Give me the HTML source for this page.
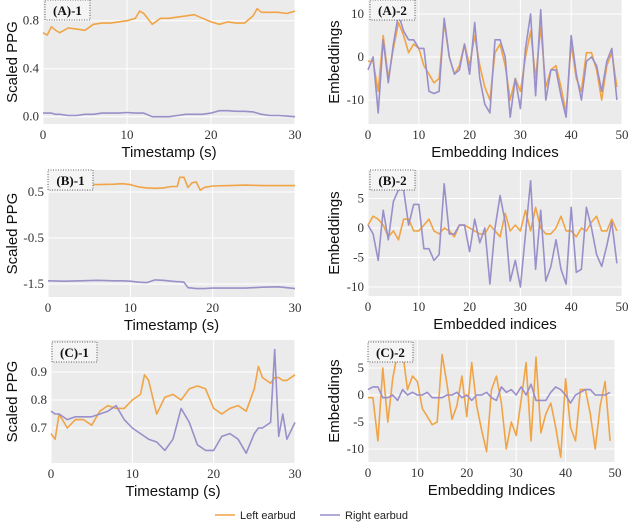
<!DOCTYPE html>
<html><head><meta charset="utf-8"><style>
body{margin:0;background:#fff}
svg{display:block}
text{font-family:"Liberation Serif",serif;fill:#222}
.t{font-family:"Liberation Sans",sans-serif;font-size:15px;fill:#111}
.tk{font-size:13px;fill:#333}
.lab{font-weight:bold;font-size:13px;fill:#111}
</style></head><body>
<svg id="c" width="630" height="524"></svg>
<script>
// ---- data ----
const tA1 = [0,0.5,1,1.5,2,3,4,5,6,7,8,9,10,11,11.5,12,13,14,15,16,17,18,19,20,21,22,23,24,25,25.5,26,27,28,29,30];
const a1Left = [0.70,0.68,0.75,0.72,0.70,0.74,0.73,0.72,0.77,0.78,0.78,0.79,0.80,0.82,0.88,0.86,0.77,0.82,0.82,0.83,0.84,0.85,0.82,0.79,0.77,0.79,0.78,0.78,0.84,0.90,0.87,0.87,0.87,0.86,0.88];
const a1Right = [0.03,0.03,0.03,0.02,0.02,0.01,0.01,0.02,0.02,0.03,0.03,0.03,0.035,0.03,0.03,0.03,0.0,0.0,0.0,0.01,0.02,0.02,0.02,0.03,0.05,0.05,0.045,0.045,0.04,0.03,0.02,0.01,0.01,0.005,0.0];
const tB1 = [0,2,4,6,8,9,10,11,12,13,14,15,15.7,16,16.5,17,17.5,18,18.5,19,20,22,24,26,28,30];
const b1Left = [0.67,0.66,0.67,0.66,0.67,0.68,0.66,0.61,0.59,0.58,0.59,0.62,0.62,0.82,0.82,0.60,0.70,0.72,0.54,0.60,0.63,0.64,0.65,0.64,0.64,0.64];
const b1Right = [-1.43,-1.44,-1.43,-1.42,-1.43,-1.43,-1.44,-1.46,-1.47,-1.41,-1.42,-1.44,-1.45,-1.45,-1.46,-1.58,-1.59,-1.60,-1.60,-1.60,-1.59,-1.59,-1.59,-1.57,-1.56,-1.60];
const tC1 = [0,0.5,1,2,3,4,5,6,7,8,9,10,11,11.5,12,13,14,15,16,17,18,19,20,21,22,23,24,25,25.5,26,27,27.5,28,28.5,29,30];
const c1Left = [0.68,0.66,0.75,0.70,0.73,0.73,0.71,0.76,0.78,0.77,0.77,0.80,0.82,0.89,0.87,0.75,0.81,0.82,0.80,0.84,0.85,0.84,0.77,0.75,0.77,0.78,0.76,0.84,0.92,0.88,0.86,0.88,0.88,0.87,0.87,0.89];
const c1Right = [0.76,0.75,0.75,0.73,0.74,0.74,0.74,0.75,0.76,0.78,0.73,0.70,0.68,0.67,0.66,0.65,0.62,0.66,0.77,0.72,0.64,0.62,0.62,0.67,0.68,0.66,0.61,0.68,0.70,0.70,0.72,0.98,0.67,0.75,0.66,0.72];
const idx = Array.from({length:50},(_,i)=>i);
const a2Left = [-1,-1,-8,5,-5,2,8,5,1,3,2,-2,-4,-6,-5,8,0,-4,-2,3,-2,5,-2,-7,-10,1,3,-2,-10,-5,-8,0,6,-5,7,-7,-3,-2,-7,-13,3,-5,-8,1,1,-3,-10,-2,1,-7];
const a2Right = [-3,0,-13,4,-6,3,10,6,4,4,2,2,-8,-8.5,-8,9,0,-4,-3,3,-4,8,-5,-11,-13,4,4,0,-14,-5,-12,2,10,-9,11,-10,-3,-3,-9,-14,5,-4,-10,-1,0,-2,-8,-1,2,-10];
const b2Left = [0.5,2,1.5,0.5,-1.5,-0.5,-2,1.5,1.5,-0.5,-0.5,0.5,1.5,-0.5,-1,0,-0.5,-1.5,0.5,0.5,0,-0.5,-1,-1,0.5,-0.5,-1.5,2.5,-0.5,0.5,-0.5,3,-0.5,3.5,0,-1,-1,0,2,-0.5,-0.5,-1.5,0,-0.5,1,2,-0.5,-0.5,1.5,-0.5];
const b2Right = [0.5,-1,-5.5,3,-2,4.5,6.5,6.5,0.5,4,4,-3.5,-3.5,-5.5,-4.5,7.5,-1,-1,0.5,0.5,-4,1.5,-2.5,0,-9.5,0,5.5,1,-9,-5.5,-10,-1,8,-7,3,-9,-6.5,-2,-7,-9.5,3.5,-7.5,-7,3.5,0,-4.5,-6.5,-3,1,-6];
const c2Left = [-0.5,-0.5,-8.5,5,-5,3,8,8,1,3.5,2.5,-2.5,-4,-5.5,-5,7.5,2,-4.5,-2,3.5,-4,6,-2,-6.5,-10.5,1,3.5,-1.5,-10,-5,-7.5,-1,6,-8.5,7,-7,-3.5,-1.5,-6,-11.5,3,-6,-8.5,1,1,-3.5,-10,-2,2.5,-8.5];
const c2Right = [1,1.5,1.5,-0.5,-0.5,0,-1,1,0,0.5,0,0,0.5,-0.5,-0.5,-0.5,0,0,0.5,-0.5,0,-1,0,0,0.5,-0.5,-1,1.5,0.5,1,0,1.5,0,2,-1,-1,-1,0.5,1.5,1,0,-1.5,0,0.5,1,1,0,0,0,0.5];
const ticksTime = [0,10,20,30];
const ticksIdx = [0,10,20,30,40,50];

const NS="http://www.w3.org/2000/svg";
const svg=document.getElementById('c');
function el(tag,attrs,parent){const e=document.createElementNS(NS,tag);for(const k in attrs)e.setAttribute(k,attrs[k]);(parent||svg).appendChild(e);return e;}
const OR="#f0a446", PU="#9a8fc9";

function panel(p){
  const g=el('g',{});
  
  
  const sx=v=>p.x0+(v-p.xd[0])/(p.xd[1]-p.xd[0])*(p.x1-p.x0);
  const sy=v=>p.yb+(v-p.yv[0])/(p.yv[1]-p.yv[0])*(p.yc-p.yb);
  const bg=el('rect',{x:p.x0,y:p.y0,width:p.x1-p.x0,height:p.y1-p.y0,fill:'#ebebeb'},g);
  
  
  p.xt.forEach(v=>{const X=sx(v);
    if(X<=p.x1+0.5)el('line',{x1:X,x2:X,y1:p.y0,y2:p.y1,stroke:'#fff','stroke-width':1},g);
    const t=el('text',{x:X,y:p.y1+15,'text-anchor':'middle',class:'tk'},g);t.textContent=v;
    
    });
  p.yt.forEach((v,i)=>{const Y=sy(v);
    el('line',{x1:p.x0,x2:p.x1,y1:Y,y2:Y,stroke:'#fff','stroke-width':1},g);
    const t=el('text',{x:p.x0-4,y:Y+4,'text-anchor':'end',class:'tk'},g);t.textContent=p.ytl[i];
    
    });
  p.series.forEach(s=>{
    const d=s.x.map((xv,i)=>(i?'L':'M')+sx(xv).toFixed(1)+','+sy(s.y[i]).toFixed(1)).join('');
    const path=el('path',{d:d,fill:'none',stroke:s.c,'stroke-width':1.6,'stroke-linejoin':'round'},g);
    
    
  });
  const lb=el('rect',{x:p.lx,y:p.ly,width:45,height:20,fill:'#f4f4f4',stroke:'#333','stroke-dasharray':'1,1.5','stroke-width':0.8},g);
  
  
  const lt=el('text',{x:p.lx+22.5,y:p.ly+15,'text-anchor':'middle',class:'lab'},g);lt.textContent=p.label;
  
  
  const xt=el('text',{x:(p.x0+p.x1)/2,y:p.y1+33,'text-anchor':'middle',class:'t'},g);xt.textContent=p.xtitle;
  
  
  const cy=(p.y0+p.y1)/2;
  const yt=el('text',{x:p.ytx,y:cy,'text-anchor':'middle',class:'t',transform:`rotate(-90 ${p.ytx} ${cy})`},g);yt.textContent=p.ytitle;
  
  
}

panel({name:'panel-a1',x0:43,x1:295,y0:0,y1:124,xd:[0,30],yb:116.7,yc:20.7,yv:[0,0.8],xt:ticksTime,yt:[0,0.4,0.8],ytl:['0.0','0.4','0.8'],
  series:[{x:tA1,y:a1Left,c:OR,n:'left-earbud-line'},{x:tA1,y:a1Right,c:PU,n:'right-earbud-line'}],
  lx:45,ly:0,label:'(A)-1',xtitle:'Timestamp (s)',ytitle:'Scaled PPG',ytx:17});
panel({name:'panel-a2',x0:368,x1:622,y0:0,y1:124,xd:[0,50],yb:57,yc:14,yv:[0,10],xt:ticksIdx,yt:[-10,0,10],ytl:['-10','0','10'],
  series:[{x:idx,y:a2Left,c:OR,n:'left-earbud-line'},{x:idx,y:a2Right,c:PU,n:'right-earbud-line'}],
  lx:370,ly:0,label:'(A)-2',xtitle:'Embedding Indices',ytitle:'Embeddings',ytx:339});
panel({name:'panel-b1',x0:48,x1:295,y0:170,y1:297,xd:[0,30],yb:192,yc:284,yv:[0.5,-1.5],xt:ticksTime,yt:[0.5,-0.5,-1.5],ytl:['0.5','-0.5','-1.5'],
  series:[{x:tB1,y:b1Left,c:OR,n:'left-earbud-line'},{x:tB1,y:b1Right,c:PU,n:'right-earbud-line'}],
  lx:48,ly:170,label:'(B)-1',xtitle:'Timestamp (s)',ytitle:'Scaled PPG',ytx:17});
panel({name:'panel-b2',x0:368,x1:622,y0:170,y1:296,xd:[0,50],yb:228,yc:198.5,yv:[0,5],xt:ticksIdx,yt:[-10,-5,0,5],ytl:['-10','-5','0','5'],
  series:[{x:idx,y:b2Left,c:OR,n:'left-earbud-line'},{x:idx,y:b2Right,c:PU,n:'right-earbud-line'}],
  lx:370,ly:170,label:'(B)-2',xtitle:'Embedded indices',ytitle:'Embeddings',ytx:339});
panel({name:'panel-c1',x0:51,x1:295,y0:340,y1:463,xd:[0,30],yb:428,yc:372,yv:[0.7,0.9],xt:ticksTime,yt:[0.7,0.8,0.9],ytl:['0.7','0.8','0.9'],
  series:[{x:tC1,y:c1Left,c:OR,n:'left-earbud-line'},{x:tC1,y:c1Right,c:PU,n:'right-earbud-line'}],
  lx:52,ly:342,label:'(C)-1',xtitle:'Timestamp (s)',ytitle:'Scaled PPG',ytx:17});
panel({name:'panel-c2',x0:368,x1:615,y0:340,y1:462,xd:[0,50],yb:395,yc:368,yv:[0,5],xt:ticksIdx,yt:[-10,-5,0,5],ytl:['-10','-5','0','5'],
  series:[{x:idx,y:c2Left,c:OR,n:'left-earbud-line'},{x:idx,y:c2Right,c:PU,n:'right-earbud-line'}],
  lx:368,ly:342,label:'(C)-2',xtitle:'Embedding Indices',ytitle:'Embeddings',ytx:339});

// legend
const lg=el('g',{});


[[215,'Left earbud',OR],[320,'Right earbud',PU]].forEach(([x,t,c])=>{
  const e=el('g',{},lg);
  
  
  el('line',{x1:x,x2:x+20,y1:515,y2:515,stroke:c,'stroke-width':1.6},e);
  const tx=el('text',{x:x+25,y:519,style:'font-family:Liberation Sans,sans-serif;font-size:11px'},e);tx.textContent=t;
});
</script>
</body></html>
